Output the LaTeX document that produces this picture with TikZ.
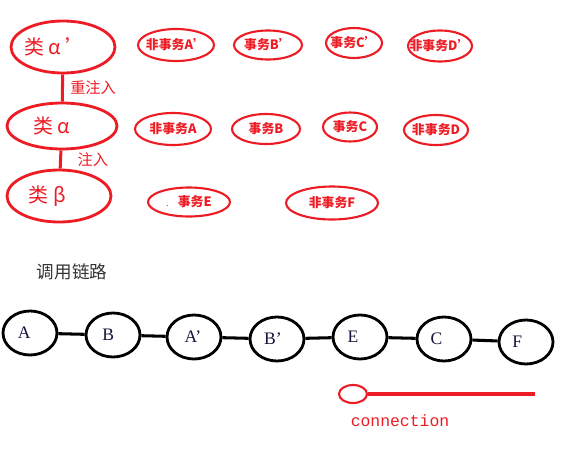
\documentclass[tikz,border=0pt]{standalone}
\usepackage{fontspec}
\setmainfont{Liberation Serif}
\newfontfamily\cjk{Noto Sans CJK SC}
\newfontfamily\mono{Liberation Mono}
\usepackage{xcolor}
\usetikzlibrary{shapes.geometric}
\definecolor{pred}{HTML}{ED1C24}
\definecolor{ink}{HTML}{14143C}
\definecolor{gray}{HTML}{333333}
\tikzset{
  cls/.style={ellipse, draw=pred, line width=2.4pt, inner sep=-12pt, text=pred, font=\cjk\fontsize{17}{17}\selectfont},
  tx/.style={ellipse, draw=pred, line width=1.8pt, inner sep=-12pt, text=pred, font=\cjk\bfseries\fontsize{11}{11}\selectfont},
  call/.style={ellipse, draw=black, line width=2.4pt, inner sep=-8pt, minimum width=1.62cm, minimum height=1.32cm, text=ink, font=\fontsize{15}{15}\selectfont},
  link/.style={draw=black, line width=2.6pt},
  inj/.style={draw=pred, line width=2.6pt},
  lab/.style={text=pred, font=\cjk\fontsize{13}{13}\selectfont},
}

\begin{document}
\begin{tikzpicture}[x=0.03cm,y=-0.03cm]
  \useasboundingbox (0,0) rectangle (567,449);
  % classes
  \node[cls,minimum width=3.12cm,minimum height=1.56cm] (alphaP) at (63,47) {类 α ’\hspace*{14pt}};
  \node[cls,minimum width=3.3cm,minimum height=1.38cm] (alpha) at (62,126) {类 α\hspace*{18pt}};
  \node[cls,minimum width=3.12cm,minimum height=1.56cm] (beta) at (59,196) {类 β\hspace*{20pt}};
  \draw[inj] (alphaP) -- node[lab,right,xshift=2pt] {重注入} (alpha);
  \draw[inj] (alpha) -- node[lab,right,xshift=10pt] {注入} (beta);
  % transactions
  \foreach \n/\x/\y/\w/\h/\t in {
      ntAp/176/45/2.28/0.96/非事务A’, tBp/268/45/2.04/0.87/事务B’,
      tCp/354/43/1.68/0.9/事务C’, ntDp/440/46/1.92/0.93/非事务D’,
      ntA/173/129/2.28/0.96/非事务A, tB/266/129/2.04/0.9/事务B,
      tC/350/127/1.62/0.87/事务C, ntD/436/130/1.92/0.9/非事务D,
      ntF/332/203/2.76/0.99/非事务F}
    \node[tx,minimum width=\w cm,minimum height=\h cm] (\n) at (\x,\y) {\t};
  \node[tx,minimum width=2.46cm,minimum height=0.87cm] (tE) at (189,202) {{\tiny .}\hspace{8pt}事务E};
  % call chain
  \node[text=gray,font=\cjk\fontsize{15}{15}\selectfont] (chain) at (72,272) {调用链路};
  \foreach \n/\x/\y/\d/\t in {A/30/333/10/A, B/113/335/8/B, Ap/194/337/2/A’, Bp/277/339/7/B’,
      E/360/337/12/E, C/444/339/13/C, F/526/342/15/F}
    \node[call] (\n) at (\x,\y) {\t\hspace*{\d pt}};
  \foreach \a/\b in {A/B, B/Ap, Ap/Bp, Bp/E, E/C, C/F}
    \draw[link] (\a) -- (\b);
  % connection
  \node[ellipse,draw=pred,line width=1.8pt,minimum width=0.84cm,minimum height=0.54cm,inner sep=0pt] (conn) at (353,394) {};
  \coordinate (connEnd) at (535,394);
  \draw[inj] (conn) -- (connEnd);
  \node[text=pred,font=\mono\fontsize{14}{14}\selectfont] (connLab) at (400,421) {connection};
\end{tikzpicture}
\end{document}
